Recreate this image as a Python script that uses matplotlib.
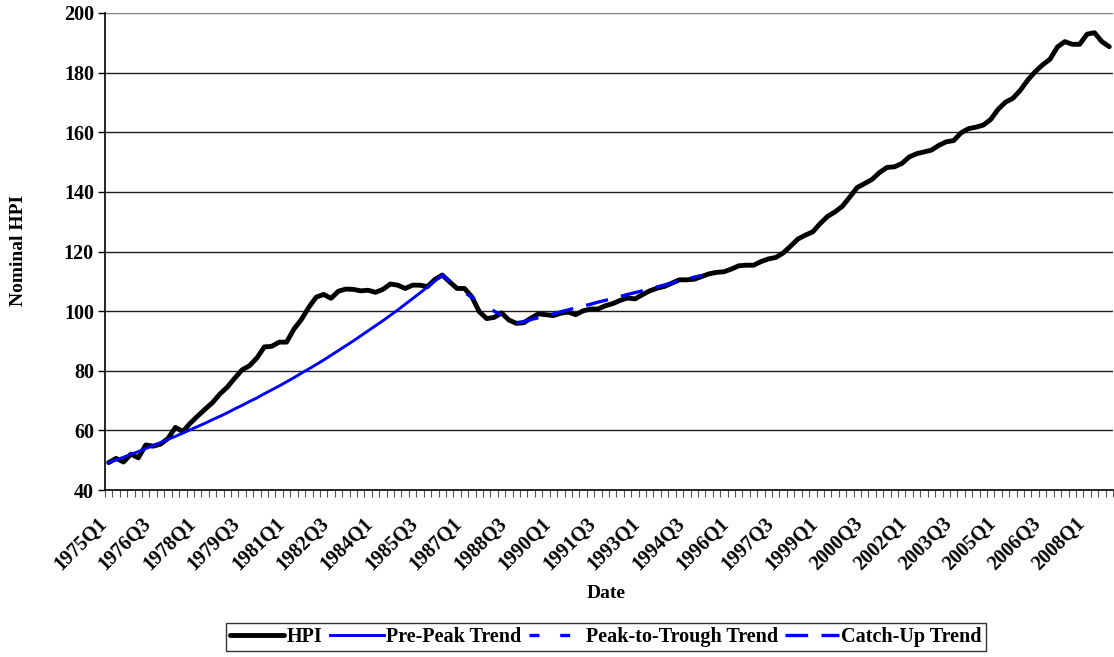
import matplotlib
matplotlib.use("Agg")
import matplotlib.pyplot as plt
import matplotlib.transforms as mtransforms
import numpy as np
from matplotlib.ticker import FixedLocator

# ---- data ----
quarters = [f"{y}Q{q}" for y in range(1975, 2009) for q in range(1, 5)]

hpi = [
    49.2, 50.6, 49.4, 52.0, 50.8, 55.1, 54.7, 55.4, 57.3, 61.0,
    59.6, 62.4, 64.8, 67.1, 69.3, 72.2, 74.5, 77.5, 80.3, 81.7,
    84.3, 88.0, 88.2, 89.6, 89.6, 94.0, 97.2, 101.3, 104.7, 105.6,
    104.3, 106.7, 107.4, 107.3, 106.8, 107.0, 106.3, 107.3, 109.1, 108.7,
    107.6, 108.7, 108.7, 108.2, 110.6, 112.1, 109.8, 107.6, 107.6, 104.8,
    99.8, 97.5, 97.9, 99.4, 97.0, 95.9, 96.1, 97.7, 99.1, 98.8,
    98.5, 99.3, 99.7, 98.8, 100.1, 100.7, 100.7, 101.8, 102.5, 103.6,
    104.4, 104.1, 105.5, 106.8, 107.7, 108.3, 109.4, 110.5, 110.5, 110.7,
    111.6, 112.5, 113.0, 113.2, 114.1, 115.2, 115.4, 115.4, 116.6, 117.5,
    118.0, 119.5, 121.8, 124.2, 125.5, 126.6, 129.4, 131.8, 133.3, 135.2,
    138.3, 141.5, 142.8, 144.2, 146.5, 148.2, 148.4, 149.5, 151.7, 152.8,
    153.4, 154.0, 155.6, 156.8, 157.2, 159.8, 161.2, 161.7, 162.4, 164.3,
    167.7, 170.1, 171.4, 174.1, 177.5, 180.3, 182.6, 184.5, 188.6, 190.4,
    189.5, 189.5, 192.9, 193.4, 190.4, 188.7,
]

# Pre-peak trend: 1975Q1 .. 1986Q2 (index 0..45)
pre_peak_start = 0
pre_peak = [
    49.2, 50.1, 51.0, 52.0, 52.9, 53.9, 54.9, 55.9, 57.0, 58.0,
    59.1, 60.2, 61.3, 62.4, 63.6, 64.7, 65.9, 67.2, 68.4, 69.7,
    70.9, 72.3, 73.6, 74.9, 76.3, 77.7, 79.2, 80.6, 82.1, 83.6,
    85.2, 86.8, 88.4, 90.0, 91.7, 93.4, 95.1, 96.8, 98.6, 100.4,
    102.3, 104.2, 106.1, 108.1, 110.1, 112.1,
]

# Peak-to-trough trend: index 45..55
ptt_start = 45
peak_to_trough = [112.1, 110.0, 108.1, 106.3, 104.6, 103.0, 101.5, 100.0, 98.5, 97.2, 95.9]

# Catch-up trend: index 55..80
cu_start = 55
catch_up = [
    95.9, 96.5, 97.2, 97.8, 98.5, 99.1, 99.8, 100.4, 101.1, 101.7,
    102.3, 103.0, 103.6, 104.3, 104.9, 105.6, 106.2, 106.8, 107.5, 108.1,
    108.8, 109.4, 110.1, 110.7, 111.4, 112.0,
]

yticks = [40, 60, 80, 100, 120, 140, 160, 180, 200]

# ---- style ----
plt.rcParams['font.family'] = ['Liberation Serif', 'DejaVu Serif']
plt.rcParams['font.weight'] = 'bold'
FS = 14.5

fig = plt.figure(figsize=(11.14, 6.57), dpi=100)
ax = fig.add_axes([105/1114, 1-490/657, (1113-105)/1114, (490-13)/657])

x = np.arange(len(hpi))
ax.plot(x, hpi, color='black', lw=3.5, solid_joinstyle='round', solid_capstyle='round',
        label='HPI', zorder=3)
ax.plot(np.arange(pre_peak_start, pre_peak_start+len(pre_peak)), pre_peak,
        color='#0000FF', lw=2.1, label='Pre-Peak Trend', zorder=4)
ax.plot(np.arange(ptt_start, ptt_start+len(peak_to_trough)), peak_to_trough,
        color='#0000FF', lw=2.4, dashes=(3.0, 6.2), label='Peak-to-Trough Trend', zorder=4)
ax.plot(np.arange(cu_start, cu_start+len(catch_up)), catch_up,
        color='#0000FF', lw=2.4, dashes=(6.8, 4.0), label='Catch-Up Trend', zorder=4)

ax.set_xlim(-0.5, len(hpi)-0.5)
ax.set_ylim(40, 200)

# y axis
ax.set_yticks(yticks)
ax.set_yticklabels([str(v) for v in yticks], fontsize=FS, fontweight='bold')
ax.tick_params(axis='y', direction='out', length=5, width=1, pad=3)
for v in yticks[1:]:
    ax.axhline(v, color='#202020' if v != 200 else '#808080', lw=1.0, zorder=1)

# x axis
lab_idx = list(range(0, len(hpi), 6))
ax.set_xticks(lab_idx)
ax.set_xticklabels([quarters[i] for i in lab_idx], fontsize=FS, fontweight='bold',
                   rotation=45, ha='right', va='center', rotation_mode='anchor')
ax.tick_params(axis='x', which='major', length=0, pad=22)
offset = mtransforms.ScaledTranslation(-5/100, 0, fig.dpi_scale_trans)
for lbl in ax.get_xticklabels():
    lbl.set_transform(lbl.get_transform() + offset)
ax.xaxis.set_minor_locator(FixedLocator(np.arange(-0.5, len(hpi), 1.0)))
ax.tick_params(axis='x', which='minor', direction='out', length=5, width=0.8, color='#555555')

for s in ['top', 'right']:
    ax.spines[s].set_visible(False)
ax.spines['left'].set_linewidth(1.2)
ax.spines['bottom'].set_linewidth(1.2)

fig.text(0.0165, (657-251)/657, 'Nominal HPI', rotation=90, ha='center', va='center',
         fontsize=FS-0.5, fontweight='bold')
fig.text(606/1114, 1-593/657, 'Date', ha='center', va='center', fontsize=FS-0.5, fontweight='bold')

leg = fig.legend(loc='center', bbox_to_anchor=(606/1114, 1-637/657), ncol=4,
                 frameon=True, fancybox=False, shadow=False, fontsize=FS,
                 handlelength=2.7, handletextpad=0.12, columnspacing=0.35,
                 borderpad=0.2, borderaxespad=0)
leg.get_frame().set_edgecolor('black')
leg.get_frame().set_linewidth(1.0)
for t in leg.get_texts():
    t.set_fontweight('bold')

fig.savefig('out.png', dpi=100)
